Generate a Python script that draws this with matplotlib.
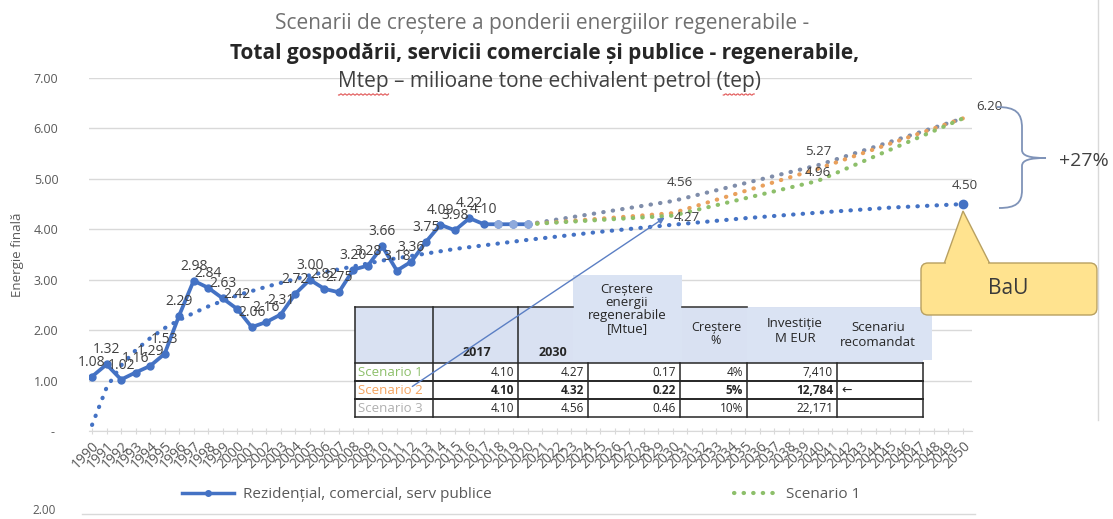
import numpy as np
import matplotlib
matplotlib.use('Agg')
import matplotlib.pyplot as plt
from matplotlib.patches import Rectangle, FancyBboxPatch, Polygon, PathPatch
from matplotlib.path import Path
from matplotlib.lines import Line2D

W, H = 1113, 519

# historic series (2018-2020 flat, unlabelled)
hist_years = list(range(1990, 2021))
hist_values = [1.08, 1.32, 1.02, 1.16, 1.29, 1.53, 2.29, 2.98, 2.84, 2.63, 2.42,
               2.06, 2.16, 2.31, 2.72, 3.00, 2.82, 2.75, 3.20, 3.28, 3.66, 3.18,
               3.36, 3.75, 4.09, 3.98, 4.22, 4.10, 4.10, 4.10, 4.10]
n_labelled = 28

# BaU trend
bau_years = [1990, 1991, 1992, 1993, 1994, 1995, 1996, 1997, 1998, 2000, 2002,
             2005, 2010, 2015, 2020, 2025, 2030, 2035, 2040, 2045, 2050]
bau_values = [0.12, 0.86, 1.30, 1.60, 1.84, 2.04, 2.20, 2.34, 2.47, 2.69, 2.86,
              3.09, 3.38, 3.61, 3.79, 3.95, 4.09, 4.22, 4.33, 4.43, 4.50]

scen_years = [2020, 2030, 2040, 2050]
scen1 = [4.10, 4.27, 4.96, 6.20]
scen2 = [4.10, 4.32, 5.20, 6.20]
scen3 = [4.10, 4.56, 5.27, 6.20]

# table
row_names = ['Scenario 1', 'Scenario 2', 'Scenario 3']
col_2017 = ['4.10', '4.10', '4.10']
col_2030 = ['4.27', '4.32', '4.56']
col_growth = ['0.17', '0.22', '0.46']
col_pct = ['4%', '5%', '10%']
col_invest = ['7,410', '12,784', '22,171']
col_recom = ['', '\u2190', '']

plt.rcParams['font.family'] = ['Open Sans', 'DejaVu Sans']

BLUE = '#4472C4'
GREEN = '#8DBF6A'
ORANGE = '#E9A05C'
SLATE = '#7F8DAA'
GRID = '#D9D9D9'
TXT = '#404040'

fig = plt.figure(figsize=(W / 100, H / 100), dpi=100)

ax = fig.add_axes([89 / W, 1 - 431 / H, (972 - 89) / W, (431 - 78) / H])
ax.set_xlim(1989.79, 2050.62)
ax.set_ylim(0, 7)
ax.set_yticks(range(8))
ax.set_yticklabels(['- '] + ['%.2f' % v for v in range(1, 8)], color='#595959', fontsize=9)
ax.tick_params(axis='y', length=0, pad=22)
ax.set_xticks(range(1990, 2051))
ax.set_xticklabels([str(y) for y in range(1990, 2051)], rotation=45, ha='right',
                   rotation_mode='anchor', fontsize=10, color='#595959')
ax.tick_params(axis='x', direction='inout', length=5, color=GRID, pad=3)
for s in ['top', 'right', 'left']:
    ax.spines[s].set_visible(False)
ax.spines['bottom'].set_color(GRID)
ax.grid(axis='y', color=GRID, lw=1)
ax.set_axisbelow(True)
ax.set_ylabel('Energie finală', fontsize=9.5, color='#595959')
ax.yaxis.set_label_coords(-0.0736, 0.5)

dot = dict(linestyle=(0, (0.1, 2.2)), dash_capstyle='round', lw=3)
ax.plot(bau_years, bau_values, color=BLUE, **dot, zorder=3)
ax.plot([2050], [4.50], 'o', color=BLUE, ms=6, zorder=4)
ax.plot(scen_years, scen3, color=SLATE, **dot, zorder=3)
ax.plot(scen_years, scen2, color=ORANGE, **dot, zorder=3)
ax.plot(scen_years, scen1, color=GREEN, **dot, zorder=3)

ax.plot(hist_years, hist_values, color=BLUE, lw=2.7, marker='o', ms=5, zorder=5)
ax.plot(hist_years[n_labelled:], hist_values[n_labelled:], 'o', color='#8FAADC',
        ms=5, zorder=6)
for yr, v in zip(hist_years[:n_labelled], hist_values[:n_labelled]):
    ax.annotate('%.2f' % v, (yr, v), xytext=(0, 5), textcoords='offset points',
                ha='center', va='bottom', fontsize=10, color=TXT, zorder=7)

lab = dict(textcoords='offset points', fontsize=9.5, color=TXT)
ax.annotate('4.56', (2030, 4.56), xytext=(5, 9), ha='center', va='bottom', **lab)
ax.annotate('4.27', (2030, 4.27), xytext=(1, -1), ha='left', va='center', **lab)
ax.annotate('5.27', (2040, 5.27), xytext=(0, 5), ha='center', va='bottom', **lab)
ax.annotate('4.96', (2040, 4.96), xytext=(0, 1), ha='center', va='bottom', **lab)
ax.annotate('6.20', (2050, 6.20), xytext=(19, 4), ha='center', va='bottom', **lab)
ax.annotate('4.50', (2050, 4.50), xytext=(1, 9), ha='center', va='bottom', **lab)

# overlay in pixel coordinates
ov = fig.add_axes([0, 0, 1, 1], zorder=5)
ov.set_xlim(0, W)
ov.set_ylim(H, 0)
ov.axis('off')

TFS = 15
ov.text(542, 23, 'Scenarii de creștere a ponderii energiilor regenerabile -',
        ha='center', va='center', fontsize=TFS, color='#707070')
ov.text(545, 53, 'Total gospodării, servicii comerciale și publice - regenerabile,',
        ha='center', va='center', fontsize=TFS, color='#262626', fontweight='bold')
t3_y = 82
t3 = ov.text(550, t3_y, 'Mtep – milioane tone echivalent petrol (tep)',
             ha='center', va='center', fontsize=TFS, color='#404040')

# red spell-check squiggles under "Mtep" and "tep"
fig.canvas.draw()
rend = fig.canvas.get_renderer()
full = t3.get_text()
bb = t3.get_window_extent(rend)


def text_width(s):
    tmp = ov.text(0, 0, s, fontsize=TFS)
    w = tmp.get_window_extent(rend).width
    tmp.remove()
    return w


for word in ['Mtep', 'tep']:
    start = full.rfind(word)
    x0 = bb.x0 + text_width(full[:start]) if start > 0 else bb.x0
    x1 = bb.x0 + text_width(full[:start + len(word)])
    xs = np.arange(x0, x1, 1.0)
    ys = t3_y + 12 + 1.0 * (np.arange(len(xs)) % 4 < 2)
    ov.plot(xs, ys, color='#E05050', lw=0.8)

# table
cx = [355, 433, 518, 588, 680, 747, 837, 923]
ry = [307, 363, 381, 399, 417]
ov.add_patch(Rectangle((cx[0], ry[0]), cx[-1] - cx[0], ry[1] - ry[0],
                       facecolor='#D9E1F2', edgecolor='none'))
ov.add_patch(Rectangle((cx[0], ry[1]), cx[-1] - cx[0], ry[-1] - ry[1],
                       facecolor='white', edgecolor='none'))
ov.add_patch(Rectangle((573, 275), 109, 85, facecolor='#DAE3F3', edgecolor='none'))
ov.add_patch(Rectangle((747, 308), 185, 52, facecolor='#DAE3F3', edgecolor='none'))
ov.plot([cx[0], 573], [ry[0], ry[0]], color='#404040', lw=1.2)
ov.plot([682, 747], [ry[0], ry[0]], color='#404040', lw=1.2)
for x in cx[:3]:
    ov.plot([x, x], [ry[0], ry[-1]], color='#262626', lw=1.1)
for x in cx[3:]:
    ov.plot([x, x], [ry[1], ry[-1]], color='#262626', lw=1.1)
for y in ry[1:]:
    ov.plot([cx[0], cx[-1]], [y, y], color='#262626', lw=1.4 if y in (381, 399) else 1.1)

hdr = dict(ha='center', va='center', color='#262626')
ov.text(477, 352, '2017', fontweight='bold', fontsize=9, **hdr)
ov.text(553, 352, '2030', fontweight='bold', fontsize=9, **hdr)
ov.text(627, 309, 'Creștere\nenergii\nregenerabile\n[Mtue]', linespacing=1.0,
        fontsize=9.5, **hdr)
ov.text(716, 334, 'Creștere\n%', linespacing=1.1, fontsize=9, **hdr)
ov.text(795, 331, 'Investiție\nM EUR', linespacing=1.1, fontsize=9.5, **hdr)
ov.text(878, 335, 'Scenariu\nrecomandat', linespacing=1.15, fontsize=9.5, **hdr)

row_colors = ['#8DBF6A', '#F4A460', '#B0B0B0']
for i in range(3):
    yc = (ry[i + 1] + ry[i + 2]) / 2
    fw = 'bold' if i == 1 else 'normal'
    ov.text(cx[0] + 3, yc, row_names[i], ha='left', va='center', fontsize=9.5,
            color=row_colors[i])
    cells = [col_2017[i], col_2030[i], col_growth[i], col_pct[i], col_invest[i]]
    for j, c in enumerate(cells):
        ov.text(cx[j + 2] - 4, yc, c, ha='right', va='center', fontsize=8.5,
                color='#262626', fontweight=fw)
    ov.text(cx[6] + 4, yc, col_recom[i], ha='left', va='center', fontsize=9,
            color='#262626')

# arrow from table to 2030 point
ov.annotate('', xy=(667, 216), xytext=(410, 388),
            arrowprops=dict(arrowstyle='-|>', color='#5B7FC4', lw=1, mutation_scale=9))

# BaU callout
ov.add_patch(Polygon([(963, 211), (944, 264), (990, 264)], closed=True,
                     facecolor='#FFE38F', edgecolor='#B8A060', lw=1, zorder=2))
ov.add_patch(FancyBboxPatch((921, 263), 176, 52, boxstyle='round,pad=0,rounding_size=7',
                            facecolor='#FFE38F', edgecolor='#B8A060', lw=1, zorder=2))
ov.add_patch(Rectangle((946, 261), 42, 5, facecolor='#FFE38F', edgecolor='none', zorder=3))
ov.text(1008, 289, 'BaU', ha='center', va='center', fontsize=15, color='#3A3A3A', zorder=4)

# brace and +27%
verts = [(997, 107), (1016, 107), (1022, 113), (1022, 128),
         (1022, 150),
         (1022, 156), (1030, 158), (1046, 158),
         (1030, 158), (1022, 160), (1022, 166),
         (1022, 190),
         (1022, 203), (1016, 208), (999, 208)]
codes = [Path.MOVETO, Path.CURVE4, Path.CURVE4, Path.CURVE4,
         Path.LINETO,
         Path.CURVE4, Path.CURVE4, Path.CURVE4,
         Path.CURVE4, Path.CURVE4, Path.CURVE4,
         Path.LINETO,
         Path.CURVE4, Path.CURVE4, Path.CURVE4]
ov.add_patch(PathPatch(Path(verts, codes), facecolor='none', edgecolor='#7F93B8', lw=1.3))
ov.text(1084, 161, '+27%', ha='center', va='center', fontsize=14, color='#404040')

# right frame line
ov.plot([1098, 1098], [0, 420], color='#D9D9D9', lw=1)

# legend
h1 = Line2D([], [], color=BLUE, lw=2.5, marker='o', ms=4)
h2 = Line2D([], [], color=GREEN, **dot)
fig.legend([h1], ['Rezidențial, comercial, serv publice'], loc='center left',
           bbox_to_anchor=(168 / W, 1 - 495 / H), frameon=False, fontsize=11,
           handlelength=3.4, handletextpad=0.6, labelcolor='#595959')
fig.legend([h2], ['Scenario 1'], loc='center left',
           bbox_to_anchor=(720 / W, 1 - 495 / H), frameon=False, fontsize=11,
           handlelength=2.8, handletextpad=0.6, labelcolor='#595959')

# start of the next chart below
ov.plot([82, 975], [514, 514], color=GRID, lw=1)
ov.text(44, 511, '2.00', ha='center', va='center', fontsize=8.5, color='#595959')

fig.savefig('out.png', dpi=100)
